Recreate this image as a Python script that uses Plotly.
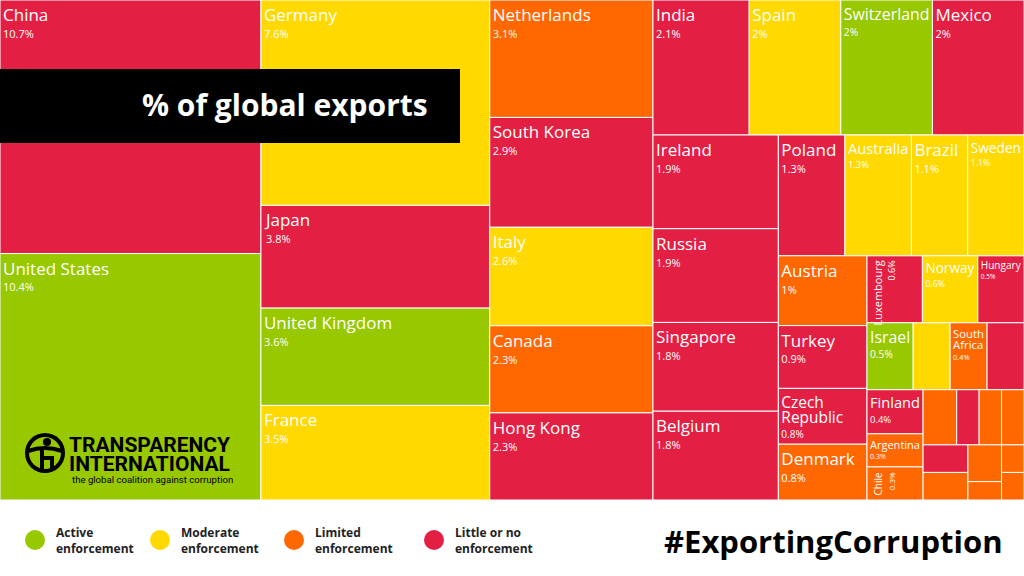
import plotly.graph_objects as go

countries = ["China", "United States", "Germany", "Japan", "United Kingdom", "France",
             "Netherlands", "South Korea", "Italy", "Canada", "Hong Kong",
             "India", "Spain", "Switzerland", "Mexico",
             "Ireland", "Russia", "Singapore", "Belgium",
             "Poland", "Australia", "Brazil", "Sweden",
             "Austria", "Turkey", "Czech Republic", "Denmark",
             "Luxembourg", "Norway", "Hungary",
             "Israel", "Portugal", "South Africa", "Slovakia",
             "Finland", "Argentina", "Chile",
             "Greece", "Slovenia", "New Zealand", "Lithuania",
             "Bulgaria", "Colombia", "Peru", "Latvia", "Estonia", "Iceland"]
export_share = [10.7, 10.4, 7.6, 3.8, 3.6, 3.5,
                3.1, 2.9, 2.6, 2.3, 2.3,
                2.1, 2, 2, 2,
                1.9, 1.9, 1.8, 1.8,
                1.3, 1.3, 1.1, 1.1,
                1, 0.9, 0.8, 0.8,
                0.6, 0.6, 0.5,
                0.5, 0.4, 0.4, 0.4,
                0.4, 0.3, 0.3,
                0.3, 0.2, 0.2, 0.2,
                0.2, 0.2, 0.2, 0.1, 0.1, 0.1]
enforcement = ["little", "active", "moderate", "little", "active", "moderate",
               "limited", "little", "moderate", "limited", "little",
               "little", "moderate", "active", "little",
               "little", "little", "little", "little",
               "little", "moderate", "moderate", "moderate",
               "limited", "little", "little", "limited",
               "little", "moderate", "little",
               "active", "moderate", "limited", "little",
               "little", "limited", "limited",
               "limited", "little", "limited", "limited",
               "little", "limited", "limited", "limited", "limited", "limited"]
# cells whose label is written horizontally inside the tile
labelled = ["China", "United States", "Germany", "Japan", "United Kingdom", "France",
            "Netherlands", "South Korea", "Italy", "Canada", "Hong Kong",
            "India", "Spain", "Switzerland", "Mexico",
            "Ireland", "Russia", "Singapore", "Belgium",
            "Poland", "Australia", "Brazil", "Sweden",
            "Austria", "Turkey", "Czech Republic", "Denmark",
            "Norway", "Hungary", "Israel", "South Africa", "Finland", "Argentina"]
# cells whose label is written vertically
vertical_labelled = ["Luxembourg", "Chile"]

legend_keys = ["active", "moderate", "limited", "little"]
legend_labels = ["Active<br>enforcement", "Moderate<br>enforcement",
                 "Limited<br>enforcement", "Little or no<br>enforcement"]
palette = {"active": "#97C800", "moderate": "#FFD900",
           "limited": "#FF6700", "little": "#E32044"}

line_breaks = {"Czech Republic": "Czech<br>Republic", "South Africa": "South<br>Africa"}

templates = []
for c, v in zip(countries, export_share):
    if c in labelled:
        name = line_breaks.get(c, c)
        templates.append(f"<span style='font-size:17px'>{name}</span><br>"
                         f"<span style='font-size:11px'>{v:g}%</span>")
    else:
        templates.append("")

FONT = "Open Sans"

fig = go.Figure(go.Treemap(
    labels=countries,
    parents=[""] * len(countries),
    values=export_share,
    sort=True,
    texttemplate=templates,
    textposition="top left",
    textfont=dict(family=FONT, size=13, color="white"),
    marker=dict(colors=[palette[e] for e in enforcement],
                line=dict(color="white", width=1),
                pad=dict(t=0, l=0, r=0, b=0)),
    tiling=dict(packing="squarify", squarifyratio=1.618034, pad=0),
    pathbar=dict(visible=False),
    hoverinfo="skip",
    domain=dict(x=[0, 1], y=[76 / 576, 1]),
))

shapes = []
annotations = []

def px(x):
    return x / 1024

def py(y):
    return 1 - y / 576

# vertical labels for the two narrow tiles
vert_pos = {"Luxembourg": (883, 259, 11, 9), "Chile": (883, 471, 10, 8)}
for c in vertical_labelled:
    v = export_share[countries.index(c)]
    x, y, fs1, fs2 = vert_pos[c]
    annotations.append(dict(
        text=f"<span style='font-size:{fs1}px'>{c}</span><br>"
             f"<span style='font-size:{fs2}px'>{v:g}%</span>",
        xref="paper", yref="paper", x=px(x), y=py(y), xanchor="center", yanchor="top",
        textangle=-90, align="right", showarrow=False,
        font=dict(family=FONT, size=10, color="white")))

# title box
shapes.append(dict(type="rect", xref="paper", yref="paper",
                   x0=0, x1=px(460), y0=py(143), y1=py(69),
                   fillcolor="black", line=dict(width=0), layer="above"))
annotations.append(dict(text="<b>% of global exports</b>", xref="paper", yref="paper",
                        x=px(430), y=py(105), xanchor="right", yanchor="middle",
                        showarrow=False, font=dict(family=FONT, size=30, color="white")))

# legend
legend_x = [35, 160, 294, 434]
for key, lab, cx in zip(legend_keys, legend_labels, legend_x):
    shapes.append(dict(type="circle", xref="paper", yref="paper",
                       x0=px(cx - 10), x1=px(cx + 10), y0=py(550), y1=py(530),
                       fillcolor=palette[key], line=dict(width=0)))
    annotations.append(dict(text=f"<b>{lab}</b>", xref="paper", yref="paper",
                            x=px(cx + 19), y=py(540), xanchor="left",
                            yanchor="middle", align="left", showarrow=False,
                            font=dict(family=FONT, size=12, color="#222222")))

annotations.append(dict(text="<b>#ExportingCorruption</b>", xref="paper", yref="paper",
                        x=px(1005), y=py(541), xanchor="right", yanchor="middle",
                        showarrow=False, font=dict(family=FONT, size=31, color="black")))

# Transparency International logo
shapes.append(dict(type="circle", xref="paper", yref="paper",
                   x0=px(25), x1=px(65), y0=py(473), y1=py(433),
                   fillcolor="black", line=dict(width=0)))
shapes.append(dict(type="circle", xref="paper", yref="paper",
                   x0=px(29), x1=px(61), y0=py(469), y1=py(437),
                   fillcolor="#97C800", line=dict(width=0)))
shapes.append(dict(type="circle", xref="paper", yref="paper",
                   x0=px(43), x1=px(51), y0=py(446), y1=py(438),
                   fillcolor="black", line=dict(width=0)))
shapes.append(dict(type="path", xref="paper", yref="paper",
                   path=f"M {px(28)} {py(451)} Q {px(45)} {py(445)} {px(62)} {py(451)} "
                        f"M {px(42)} {py(449)} L {px(42)} {py(470)} "
                        f"M {px(42)} {py(458)} L {px(52)} {py(458)} L {px(52)} {py(468)}",
                   line=dict(color="black", width=4)))
annotations.append(dict(text="<b>TRANSPARENCY</b>", xref="paper", yref="paper",
                        x=px(67), y=py(445), xanchor="left", yanchor="middle",
                        showarrow=False, font=dict(family="Roboto", size=21, color="black")))
annotations.append(dict(text="<b>INTERNATIONAL</b>", xref="paper", yref="paper",
                        x=px(67), y=py(464), xanchor="left", yanchor="middle",
                        showarrow=False, font=dict(family="Roboto", size=21, color="black")))
annotations.append(dict(text="the global coalition against corruption", xref="paper", yref="paper",
                        x=px(70), y=py(479), xanchor="left", yanchor="middle",
                        showarrow=False, font=dict(family="Roboto", size=9.6, color="black")))

fig.update_layout(
    width=1024, height=576,
    margin=dict(l=0, r=0, t=0, b=0),
    paper_bgcolor="white",
    font=dict(family=FONT),
    hovermode=False,
    shapes=shapes,
    annotations=annotations,
)

fig.write_html("out.html", config={"displayModeBar": False},
               post_script="document.body.style.margin='0';")
